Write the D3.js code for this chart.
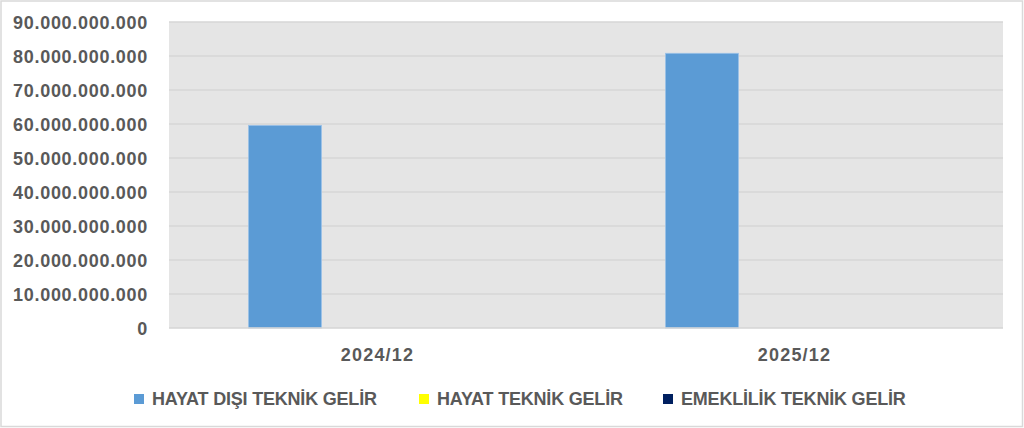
<!DOCTYPE html>
<html>
<head>
<meta charset="utf-8">
<script src="https://cdn.jsdelivr.net/npm/d3@7"></script>
<style>
  body { margin: 0; padding: 0; background: #fff; }
  svg text { font-family: "Liberation Sans", Arial, sans-serif; font-weight: bold; fill: #595959; }
</style>
</head>
<body>
<div id="chart"></div>
<script>
// data
const periods = ["2024/12", "2025/12"];
const seriesNames = ["HAYAT DIŞI TEKNİK GELİR", "HAYAT TEKNİK GELİR", "EMEKLİLİK TEKNİK GELİR"];
const hayatDisi = [59600000000, 80800000000];
const hayat = [0, 0];
const emeklilik = [0, 0];
const yTicks = [0, 10e9, 20e9, 30e9, 40e9, 50e9, 60e9, 70e9, 80e9, 90e9];

const colors = ["#5b9bd5", "#ffff00", "#002060"];
const seriesValues = [hayatDisi, hayat, emeklilik];

const W = 1024, H = 428;
const plot = { left: 169, right: 1003, top: 22, bottom: 328 };

const svg = d3.select("#chart").append("svg")
  .attr("width", W).attr("height", H);

// outer border
svg.append("rect")
  .attr("x", 1).attr("y", 1).attr("width", W - 2.5).attr("height", H - 2.5)
  .attr("fill", "#fff").attr("stroke", "#d9d9d9").attr("stroke-width", 1.5);

// plot background
svg.append("rect")
  .attr("x", plot.left).attr("y", plot.top)
  .attr("width", plot.right - plot.left).attr("height", plot.bottom - plot.top)
  .attr("fill", "#e5e5e5");

const y = d3.scaleLinear().domain([0, 90e9]).range([plot.bottom, plot.top]);
const x0 = d3.scaleBand().domain(periods).range([plot.left, plot.right])
  .paddingInner(0.381).paddingOuter(0.1905);
const x1 = d3.scaleBand().domain(seriesNames).range([0, x0.bandwidth()]).paddingInner(0.21);

const tr = d3.formatLocale({ decimal: ",", thousands: ".", grouping: [3], currency: ["", ""] });
const fmt = tr.format(",");

// gridlines
svg.append("g").selectAll("line").data(yTicks.filter(d => d > 0)).enter().append("line")
  .attr("x1", plot.left).attr("x2", plot.right)
  .attr("y1", d => y(d)).attr("y2", d => y(d))
  .attr("stroke", "#d6d6d6").attr("stroke-width", 1.5);

// y axis
const yAxis = svg.append("g")
  .attr("transform", `translate(${plot.left},0)`)
  .call(d3.axisLeft(y).tickValues(yTicks).tickFormat(fmt).tickSize(0).tickPadding(21));
yAxis.select(".domain").remove();
yAxis.selectAll("text")
  .style("font-size", "18px").style("letter-spacing", "0.7px")
  .attr("dy", "0.36em");

// bars
const rows = [];
periods.forEach((p, i) => {
  seriesNames.forEach((s, j) => rows.push({ period: p, series: s, value: seriesValues[j][i], color: colors[j] }));
});
svg.append("g").selectAll("rect").data(rows).enter().append("rect")
  .attr("x", d => x0(d.period) + x1(d.series))
  .attr("y", d => y(d.value))
  .attr("width", x1.bandwidth())
  .attr("height", d => y(0) - y(d.value))
  .attr("fill", d => d.color)
  .attr("stroke", d => d.value > 0 ? "#9cc2e8" : "none")
  .attr("stroke-width", 0.8);

// baseline
svg.append("line")
  .attr("x1", plot.left).attr("x2", plot.right)
  .attr("y1", y(0)).attr("y2", y(0))
  .attr("stroke", "#d4d4d4").attr("stroke-width", 1.5);

// x axis (labels centred on each category step)
const xAxis = svg.append("g")
  .attr("transform", `translate(0,${plot.bottom})`)
  .call(d3.axisBottom(x0).tickSize(0).tickPadding(20));
xAxis.select(".domain").remove();
xAxis.selectAll("text")
  .style("font-size", "18px").style("letter-spacing", "1.2px");
xAxis.selectAll(".tick")
  .attr("transform", d => `translate(${plot.left + (x0.step() * periods.indexOf(d)) + x0.step() / 2},0)`);

// legend
const legendX = [134, 419, 663];
const legend = svg.append("g").selectAll("g").data(seriesNames).enter().append("g")
  .attr("transform", (d, i) => `translate(${legendX[i]},394)`);
legend.append("rect")
  .attr("width", 10).attr("height", 10)
  .attr("fill", (d, i) => colors[i]);
legend.append("text")
  .attr("x", 18).attr("y", 5).attr("dy", "0.36em")
  .style("font-size", "18px").style("letter-spacing", "-0.2px")
  .text(d => d);
</script>
</body>
</html>
